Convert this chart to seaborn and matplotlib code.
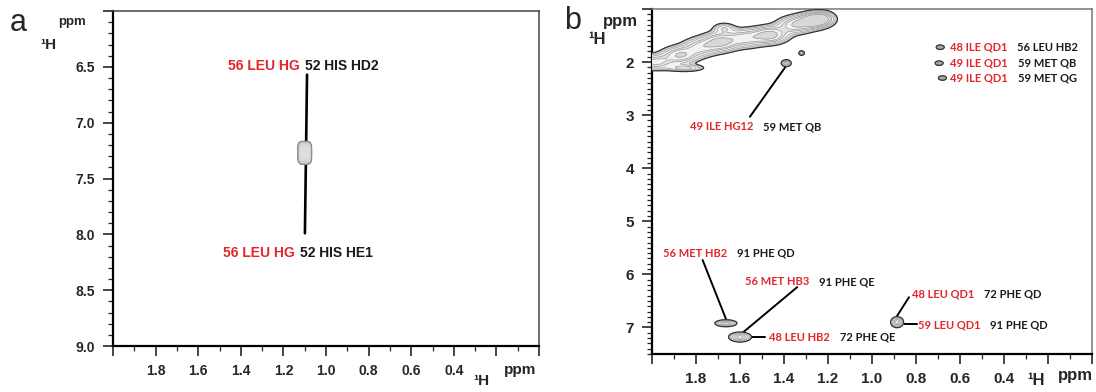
import numpy as np
import pandas as pd
import matplotlib
matplotlib.use("Agg")
import matplotlib.pyplot as plt
from matplotlib.ticker import FixedLocator, FixedFormatter, MultipleLocator
import seaborn as sns

# -------------------------------------------------------
# NOESY strip data (ppm)
# -------------------------------------------------------
RED = "#e3262a"
BLACK = "#1a1a1a"

# panel a: one cross peak
A_PEAK_X = [1.10]
A_PEAK_Y = [7.27]
A_PEAK_SX = [0.0245]
A_PEAK_SY = [0.077]
A_PEAK_AMP = [1.0]
A_LINE_X = [1.089, 1.099]
A_LINE_Y = [6.57, 7.99]
A_RED = ["56 LEU HG", "56 LEU HG"]
A_BLACK = ["52 HIS HD2", "52 HIS HE1"]
A_RED_X = [1.46, 1.484]
A_TEXT_Y = [6.49, 8.17]
A_XTICKS = [0.0, 0.2, 0.4, 0.6, 0.8, 1.0, 1.2, 1.4, 1.6, 1.8, 2.0]
A_XLABELS = ["", "", "0.4", "0.6", "0.8", "1.0", "1.2", "1.4", "1.6", "1.8", ""]
A_YTICKS = [6.0, 6.5, 7.0, 7.5, 8.0, 8.5, 9.0]
A_YLABELS = ["", "6.5", "7.0", "7.5", "8.0", "8.5", "9.0"]

# panel b: diagonal band + cross peaks
B_PEAK_X = [1.986, 1.873, 1.782, 1.691, 1.577, 1.464, 1.35, 1.27, 1.23, 1.85, 1.673,
            1.39, 1.32, 0.69, 0.695, 0.68, 1.664, 1.60, 0.886]
B_PEAK_Y = [2.00, 1.87, 1.72, 1.62, 1.55, 1.49, 1.30, 1.22, 1.18, 2.11, 1.36,
            2.02, 1.83, 1.72, 2.02, 2.30, 6.92, 7.18, 6.90]
B_PEAK_SX = [0.05, 0.05, 0.05, 0.05, 0.055, 0.05, 0.05, 0.045, 0.035, 0.05, 0.03,
             0.0127, 0.0076, 0.0102, 0.0102, 0.0102, 0.028, 0.029, 0.0165]
B_PEAK_SY = [0.09, 0.10, 0.11, 0.11, 0.11, 0.10, 0.10, 0.09, 0.08, 0.04, 0.06,
             0.037, 0.026, 0.0237, 0.0237, 0.0237, 0.037, 0.053, 0.058]
B_PEAK_AMP = [1.0, 1.2, 0.9, 1.3, 1.0, 1.4, 1.1, 1.5, 1.2, 0.8, 0.6,
              1.0, 0.8, 1.0, 1.0, 1.0, 1.0, 1.0, 1.0]

B_LINE_X = [[1.39, 1.555], [1.66, 1.77], [1.60, 1.34], [1.545, 1.486], [0.895, 0.832], [0.873, 0.795]]
B_LINE_Y = [[2.07, 3.03], [6.88, 5.73], [7.14, 6.24], [7.18, 7.18], [6.84, 6.43], [6.93, 6.93]]

B_RED = ["48 ILE QD1", "49 ILE QD1", "49 ILE QD1", "49 ILE HG12", "56 MET HB2",
         "56 MET HB3", "48 LEU QD1", "59 LEU QD1", "48 LEU HB2"]
B_BLACK = ["56 LEU HB2", "59 MET QB", "59 MET QG", "59 MET QB", "91 PHE QD",
           "91 PHE QE", "72 PHE QD", "91 PHE QD", "72 PHE QE"]
B_RED_X = [0.645, 0.645, 0.645, 1.827, 1.95, 1.577, 0.818, 0.791, 1.468]
B_TEXT_Y = [1.72, 2.02, 2.30, 3.22, 5.60, 6.14, 6.37, 6.95, 7.18]
B_XTICKS = A_XTICKS
B_XLABELS = A_XLABELS
B_YTICKS = [1, 2, 3, 4, 5, 6, 7]
B_YLABELS = ["", "2", "3", "4", "5", "6", "7"]


def peak_field(xx, yy, px, py, sx, sy, amp, power):
    """ Sum of 2D (super-)gaussian peaks on a grid. """
    z = np.zeros_like(xx)
    for x0, y0, a, b, h in zip(px, py, sx, sy, amp):
        z += h * np.exp(-0.5 * (np.abs((xx - x0) / a) ** power + np.abs((yy - y0) / b) ** power))
    return z


def draw_peaks(ax, ylim, px, py, sx, sy, amp, fills, line_color, edge_color, power=2):
    gx = np.linspace(0, 2.0, 900)
    gy = np.linspace(ylim[0], ylim[1], 1300)
    xx, yy = np.meshgrid(gx, gy)
    z = peak_field(xx, yy, px, py, sx, sy, amp, power)
    levels = [0.2, 0.35, 0.5, 0.7, 0.9, 1.2, 10]
    ax.contourf(xx, yy, z, levels=levels, colors=fills, zorder=3)
    if line_color:
        ax.contour(xx, yy, z, levels=levels[1:-1], colors=line_color, linewidths=0.5, zorder=3)
    ax.contour(xx, yy, z, levels=[0.2], colors=edge_color, linewidths=0.9, zorder=3)


def draw_lines(ax, xs, ys, lw):
    df = pd.DataFrame({
        "x": np.concatenate(xs),
        "y": np.concatenate(ys),
        "seg": np.repeat(np.arange(len(xs)), [len(v) for v in xs]),
    })
    sns.lineplot(data=df, x="x", y="y", units="seg", estimator=None, sort=False,
                 color="black", lw=lw, ax=ax, zorder=2, legend=False)


def draw_labels(ax, red, black, rx, ty, fs, family, gap):
    for r, b, x1, y in zip(red, black, rx, ty):
        t = ax.text(x1, y, r, color=RED, fontsize=fs, fontweight="bold", family=family,
                    ha="left", va="center", zorder=5)
        ax.annotate(b, xy=(1, 0.5), xycoords=t, xytext=(gap, 0), textcoords="offset points",
                    color=BLACK, fontsize=fs, fontweight="bold", family=family,
                    ha="left", va="center", zorder=5)


def style_axis(ax, xt, xl, yt, yl, ylim, fs, ycolor):
    ax.set_xlim(2.0, 0.0)
    ax.set_ylim(ylim[1], ylim[0])
    ax.xaxis.set_major_locator(FixedLocator(xt))
    ax.xaxis.set_major_formatter(FixedFormatter(xl))
    ax.yaxis.set_major_locator(FixedLocator(yt))
    ax.yaxis.set_major_formatter(FixedFormatter(yl))
    ax.xaxis.set_minor_locator(MultipleLocator(0.1))
    ax.yaxis.set_minor_locator(MultipleLocator(0.1))
    ax.tick_params(which="major", direction="out", length=7, width=1.2, labelsize=fs, pad=6)
    ax.tick_params(which="minor", direction="out", length=3.5, width=0.9)
    ax.tick_params(top=False, right=False, which="both")
    for lab in ax.get_xticklabels() + ax.get_yticklabels():
        lab.set_fontweight("bold")
    ax.set_xlabel("")
    ax.set_ylabel("")
    for s in ["left", "bottom"]:
        ax.spines[s].set_linewidth(1.6)
        ax.spines[s].set_color("black")
    for s in ["top", "right"]:
        ax.spines[s].set_linewidth(1.1)
        ax.spines[s].set_color(ycolor)


# -------------------------------------------------------
# FIGURE
# -------------------------------------------------------
sns.set_style("ticks")
plt.rcParams["font.family"] = ["Liberation Sans", "DejaVu Sans"]

fig = plt.figure(figsize=(10.96, 3.92), dpi=100)
ax_a = fig.add_axes([0.1031, 0.1173, 0.3887, 0.8546])
ax_b = fig.add_axes([0.5949, 0.0969, 0.4015, 0.8801])

# panel a
draw_lines(ax_a, [A_LINE_X], [A_LINE_Y], 1.9)
draw_peaks(ax_a, (6.0, 9.0), A_PEAK_X, A_PEAK_Y, A_PEAK_SX, A_PEAK_SY, A_PEAK_AMP,
           ["#b4b4b4", "#c4c4c4", "#d0d0d0", "#d8d8d8", "#dedede", "#e2e2e2"],
           None, "#8c8c8c", power=4)
draw_labels(ax_a, A_RED, A_BLACK, A_RED_X, A_TEXT_Y, 10, ["Liberation Sans"], 4)
style_axis(ax_a, A_XTICKS, A_XLABELS, A_YTICKS, A_YLABELS, (6.0, 9.0), 10, "#444444")

# panel b
draw_lines(ax_b, B_LINE_X, B_LINE_Y, 1.4)
draw_peaks(ax_b, (1.0, 7.5), B_PEAK_X, B_PEAK_Y, B_PEAK_SX, B_PEAK_SY, B_PEAK_AMP,
           ["#cdcdcd", "#e6e6e6", "#f4f4f4", "#e2e2e2", "#f2f2f2", "#d8d8d8"],
           "#9a9a9a", "#333333")
draw_labels(ax_b, B_RED, B_BLACK, B_RED_X, B_TEXT_Y, 8, ["Lato", "DejaVu Sans"], 7)
style_axis(ax_b, B_XTICKS, B_XLABELS, B_YTICKS, B_YLABELS, (1.0, 7.5), 11, "#777777")

# panel letters and axis units
fig.text(0.0166, 0.941, "a", fontsize=22, ha="center", va="center")
fig.text(0.0657, 0.944, "ppm", fontsize=9.5, fontweight="bold", ha="center", va="center")
fig.text(0.044, 0.885, "¹H", fontsize=11, fontweight="bold", ha="center", va="center")
fig.text(0.439, 0.028, "¹H", fontsize=11, fontweight="bold", ha="center", va="center")
fig.text(0.475, 0.056, "ppm", fontsize=11, fontweight="bold", ha="center", va="center")

fig.text(0.522, 0.946, "b", fontsize=22, ha="center", va="center")
fig.text(0.566, 0.946, "ppm", fontsize=12, fontweight="bold", ha="center", va="center")
fig.text(0.545, 0.90, "¹H", fontsize=12, fontweight="bold", ha="center", va="center")
fig.text(0.945, 0.03, "¹H", fontsize=12, fontweight="bold", ha="center", va="center")
fig.text(0.981, 0.042, "ppm", fontsize=12, fontweight="bold", ha="center", va="center")

fig.savefig("out.png", dpi=100)
